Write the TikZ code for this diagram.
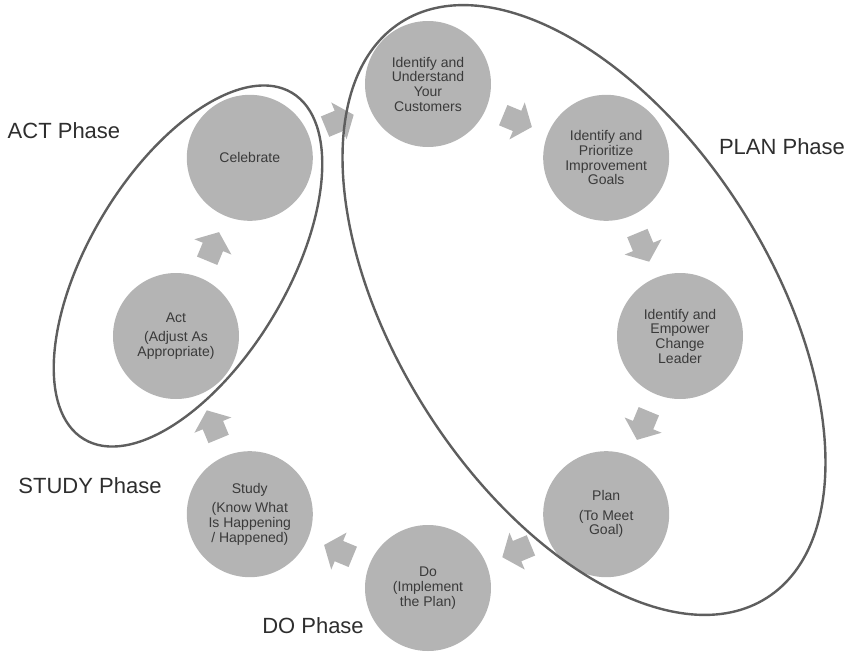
\documentclass[tikz,border=0pt]{standalone}
\usepackage{fontspec}
\setmainfont{Liberation Sans}
\usetikzlibrary{calc}
\definecolor{discfill}{HTML}{B4B4B4}
\definecolor{disctext}{HTML}{3A3A3A}
\definecolor{ringline}{HTML}{5E5E5E}
\definecolor{labeltext}{HTML}{2E2E2E}
\tikzset{
  disc/.style={circle, fill=discfill, minimum size=94.5pt, inner sep=0pt,
    align=center, text=disctext, font=\fontsize{10.5pt}{11pt}\selectfont},
  phaselabel/.style={text=labeltext, font=\fontsize{16.5pt}{19pt}\selectfont, inner sep=0pt},
  phaseloop/.style={draw=ringline, line width=1.8pt},
  blockarrow/.pic={
    \fill[discfill] (-15,-11) -- (0,-11) -- (0,-20) -- (16,0) -- (0,20) -- (0,11) -- (-15,11) -- cycle;
  }
}
\begin{document}
\begin{tikzpicture}[x=0.75pt, y=0.75pt]
  \useasboundingbox (-428,-315) rectangle (422,336);

  % steps of the cycle, clockwise from the top
  \node[disc] (cust)  at (90:252)   {Identify and\\Understand\\Your\\Customers};
  \node[disc] (goals) at (45:252)   {Identify and\\Prioritize\\Improvement\\Goals};
  \node[disc] (lead)  at (0:252)    {Identify and\\Empower\\Change\\Leader};
  \node[disc] (plan)  at (-45:252)  {Plan\\[3.75pt](To Meet\\Goal)};
  \node[disc] (do)    at (-90:252)  {Do\\(Implement\\the Plan)};
  \node[disc] (study) at (-135:252) {Study\\[3.75pt](Know What\\Is Happening\\/ Happened)};
  \node[disc] (act)   at (180:252)  {Act\\[3.75pt](Adjust As\\Appropriate)};
  \node[disc] (cel)   at (135:252)  {Celebrate};

  % block arrows halfway between consecutive steps
  \foreach \from/\to/\rot in {cel/cust/22.5, cust/goals/-22.5, goals/lead/-67.5,
      lead/plan/-112.5, plan/do/-157.5, do/study/157.5, study/act/112.5, act/cel/67.5}
    \path ($(\from)!0.5!(\to)$) pic[rotate=\rot] {blockarrow};

  % phase groupings
  \draw[phaseloop, shift={(-240,70)}, rotate=59] (0,0) ellipse [x radius=202, y radius=99];
  \draw[phaseloop, shift={(156,26)}, rotate=-57.6] (0,0) ellipse [x radius=341, y radius=187];

  % phase names
  \node[phaselabel] (actname)   at (-364,205)  {ACT Phase};
  \node[phaselabel] (planname)  at (354,189)   {PLAN Phase};
  \node[phaselabel] (studyname) at (-338,-150) {STUDY Phase};
  \node[phaselabel] (doname)    at (-115,-290) {DO Phase};
\end{tikzpicture}
\end{document}
